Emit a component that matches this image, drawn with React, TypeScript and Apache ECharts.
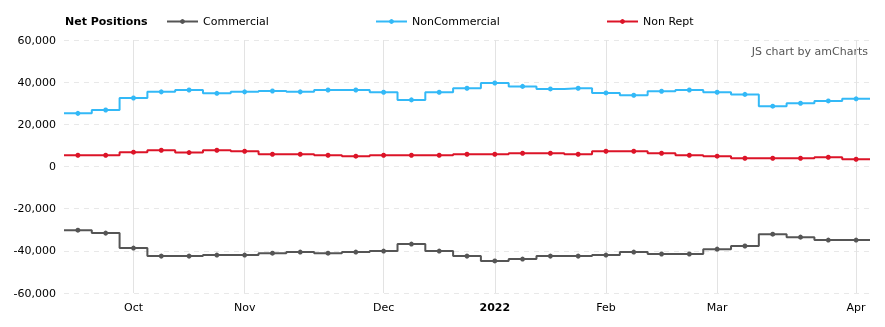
import React, { useEffect, useRef } from "react";
import * as echarts from "echarts";

const weeks = [
  "2021-09-21", "2021-09-28", "2021-10-05", "2021-10-12", "2021-10-19", "2021-10-26",
  "2021-11-02", "2021-11-09", "2021-11-16", "2021-11-23", "2021-11-30", "2021-12-07",
  "2021-12-14", "2021-12-21", "2021-12-28", "2022-01-04", "2022-01-11", "2022-01-18",
  "2022-01-25", "2022-02-01", "2022-02-08", "2022-02-15", "2022-02-22", "2022-03-01",
  "2022-03-08", "2022-03-15", "2022-03-22", "2022-03-29", "2022-04-05",
];

const commercial = [
  -30200, -31600, -38700, -42500, -42500, -42000, -42000, -41100, -40600, -41100,
  -40600, -40100, -36800, -40100, -42500, -44800, -43900, -42500, -42500, -42000,
  -40600, -41500, -41500, -39200, -37700, -32100, -33500, -34900, -34900,
];

const nonCommercial = [
  25200, 26800, 32500, 35400, 36300, 34700, 35400, 35800, 35400, 36300,
  36300, 35200, 31600, 35200, 37100, 39600, 38000, 36800, 37100, 34900,
  33800, 35700, 36300, 35200, 34200, 28600, 30000, 31100, 32100,
];

const nonRept = [
  5350, 5350, 6800, 7700, 6600, 7700, 7250, 5800, 5800, 5350,
  4900, 5350, 5350, 5350, 5800, 5800, 6300, 6300, 5800, 7250,
  7250, 6300, 5350, 4900, 3900, 3900, 3900, 4400, 3450,
];

const yTicks = [-60000, -40000, -20000, 0, 20000, 40000, 60000];
const monthNames = ["Jan", "Feb", "Mar", "Apr", "May", "Jun", "Jul", "Aug", "Sep", "Oct", "Nov", "Dec"];

const FONT = "DejaVu Sans";

function isMonthStart(i: number): boolean {
  if (i <= 0) return false;
  return weeks[i].slice(5, 7) !== weeks[i - 1].slice(5, 7);
}

function stepData(values: number[]) {
  const n = values.length;
  const pts: any[] = [{ value: [-0.5, values[0]], symbol: "none" }];
  values.forEach((v, i) => pts.push([i, v]));
  pts.push({ value: [n - 0.5, values[n - 1]], symbol: "none" });
  return pts;
}

export default function App() {
  const ref = useRef<HTMLDivElement>(null);

  useEffect(() => {
    if (!ref.current) return;
    const chart = echarts.init(ref.current, null, { renderer: "svg" });
    const n = weeks.length;

    const mk = (name: string, values: number[], color: string) => ({
      name,
      type: "line",
      xAxisIndex: 1,
      step: "middle",
      data: stepData(values),
      symbol: "circle",
      symbolSize: 5,
      showSymbol: true,
      lineStyle: { color, width: 2 },
      itemStyle: { color },
      emphasis: { disabled: true },
    });

    const legendBase = {
      top: 11,
      itemWidth: 31,
      itemHeight: 6,
      itemGap: 5,
      textStyle: { fontFamily: FONT, fontSize: 11, color: "#000" },
      selectedMode: false,
    };

    chart.setOption({
      animation: false,
      textStyle: { fontFamily: FONT },
      title: {
        text: "Net Positions",
        left: 60,
        top: 11,
        textStyle: { fontFamily: FONT, fontSize: 11, fontWeight: "bold", color: "#000" },
      },
      legend: [
        { ...legendBase, left: 161, data: ["Commercial"] },
        { ...legendBase, left: 370, data: ["NonCommercial"] },
        { ...legendBase, left: 601, data: ["Non Rept"] },
      ],
      graphic: [
        {
          type: "text",
          right: 17,
          top: 46,
          style: {
            text: "JS chart by amCharts",
            fontFamily: FONT,
            fontSize: 11,
            fill: "#555",
          },
          silent: true,
        },
      ],
      grid: { left: 64, right: 15, top: 40, bottom: 34 },
      xAxis: [
        {
          type: "category",
          data: weeks,
          boundaryGap: true,
          axisLine: { show: false },
          axisTick: { show: false, alignWithLabel: true },
          axisLabel: {
            interval: (i: number) => isMonthStart(i),
            margin: 9,
            fontFamily: FONT,
            fontSize: 11,
            color: "#000",
            formatter: (val: string) => {
              const m = parseInt(val.slice(5, 7), 10);
              if (m === 1) return "{b|" + val.slice(0, 4) + "}";
              return monthNames[m - 1];
            },
            rich: { b: { fontWeight: "bold", fontFamily: FONT, fontSize: 11, color: "#000" } },
          },
          splitLine: {
            show: true,
            alignWithLabel: true,
            interval: (i: number) => isMonthStart(i),
            lineStyle: { color: "#e3e3e3", width: 1, type: "solid" },
          },
        },
        {
          type: "value",
          min: -0.5,
          max: n - 0.5,
          show: false,
          splitLine: { show: false },
        },
      ],
      yAxis: {
        type: "value",
        min: yTicks[0],
        max: yTicks[yTicks.length - 1],
        interval: yTicks[1] - yTicks[0],
        axisLine: { show: false },
        axisTick: { show: false },
        axisLabel: {
          margin: 8,
          fontFamily: FONT,
          fontSize: 11,
          color: "#000",
          formatter: (v: number) => v.toLocaleString("en-US"),
        },
        splitLine: { lineStyle: { color: "#e8e8e8", type: [5, 5], width: 1 } },
      },
      series: [
        mk("Commercial", commercial, "#555555"),
        mk("NonCommercial", nonCommercial, "#33b9f7"),
        mk("Non Rept", nonRept, "#dc1428"),
      ],
    });

    return () => chart.dispose();
  }, []);

  return (
    <div
      ref={ref}
      style={{ position: "fixed", left: 0, top: 0, width: 885, height: 327 }}
    />
  );
}
